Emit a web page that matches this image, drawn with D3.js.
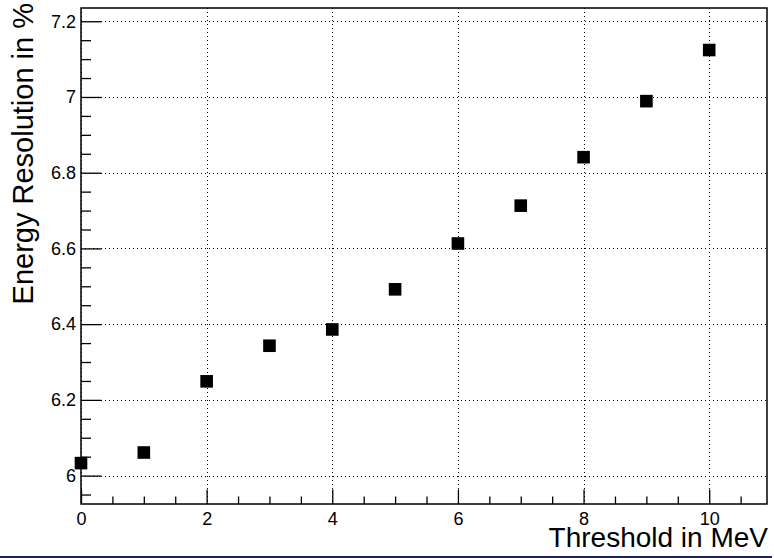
<!DOCTYPE html>
<html>
<head>
<meta charset="utf-8">
<script src="https://cdn.jsdelivr.net/npm/d3@7"></script>
<style>
  html, body { margin: 0; padding: 0; background: #fff; }
  svg { display: block; }
  text { font-family: "Liberation Sans", Arial, Helvetica, sans-serif; fill: #000; }
</style>
</head>
<body>
<svg id="chart" width="774" height="558"></svg>
<script>
// ---- data ----
const thresholds = [0, 1, 2, 3, 4, 5, 6, 7, 8, 9, 10];
const resolution = [6.033, 6.061, 6.249, 6.343, 6.386, 6.492, 6.613, 6.713, 6.841, 6.989, 7.124];
const xMajorTicks = [0, 2, 4, 6, 8, 10];
const yMajorTicks = [6, 6.2, 6.4, 6.6, 6.8, 7, 7.2];
const xTitle = "Threshold in MeV";
const yTitle = "Energy Resolution in %";

// ---- layout ----
const W = 774, H = 558;
const frame = { left: 81, right: 767, top: 8, bottom: 504 };
const svg = d3.select("#chart");

svg.append("rect").attr("width", W).attr("height", H).attr("fill", "#fff");

const x = d3.scaleLinear().domain([0, 10.92]).range([frame.left, frame.right]);
const y = d3.scaleLinear().domain([5.925, 7.235]).range([frame.bottom, frame.top]);

// minor ticks
const xMinor = d3.range(0, 10.92, 0.5).filter(v => !xMajorTicks.includes(v));
const yMinor = d3.range(5.95, 7.235, 0.05).map(v => +v.toFixed(2))
  .filter(v => !yMajorTicks.some(t => Math.abs(t - v) < 1e-6));

// grid
const grid = svg.append("g").attr("stroke", "#000").attr("stroke-width", 1)
  .attr("stroke-dasharray", "1,3").attr("shape-rendering", "crispEdges");
grid.selectAll("line.gx").data(xMajorTicks).join("line")
  .attr("x1", d => Math.round(x(d)) + 0.5).attr("x2", d => Math.round(x(d)) + 0.5)
  .attr("y1", frame.top).attr("y2", frame.bottom);
grid.selectAll("line.gy").data(yMajorTicks).join("line")
  .attr("x1", frame.left).attr("x2", frame.right)
  .attr("y1", d => Math.round(y(d)) + 0.5).attr("y2", d => Math.round(y(d)) + 0.5);

// axes
const xAxis = svg.append("g").attr("transform", `translate(0,${frame.bottom})`)
  .call(d3.axisBottom(x).tickValues(xMajorTicks).tickSizeInner(-14.5).tickSizeOuter(0)
    .tickPadding(8).tickFormat(d3.format("d")));
const xAxisMinor = svg.append("g").attr("transform", `translate(0,${frame.bottom})`)
  .call(d3.axisBottom(x).tickValues(xMinor).tickSizeInner(-7.5).tickSizeOuter(0).tickFormat(""));
const yAxis = svg.append("g").attr("transform", `translate(${frame.left},0)`)
  .call(d3.axisLeft(y).tickValues(yMajorTicks).tickSizeInner(-20.5).tickSizeOuter(0)
    .tickPadding(5).tickFormat(d => d3.format("")(+d.toFixed(1))));
const yAxisMinor = svg.append("g").attr("transform", `translate(${frame.left},0)`)
  .call(d3.axisLeft(y).tickValues(yMinor).tickSizeInner(-10).tickSizeOuter(0).tickFormat(""));

[xAxis, xAxisMinor, yAxis, yAxisMinor].forEach(g => {
  g.select(".domain").remove();
  g.selectAll(".tick line").attr("stroke", "#000").attr("stroke-width", 1.3);
  g.selectAll(".tick text").attr("font-size", 18)
    .attr("font-family", "'Liberation Sans', Arial, Helvetica, sans-serif").attr("fill", "#000");
});

// frame
svg.append("rect")
  .attr("x", frame.left).attr("y", frame.top)
  .attr("width", frame.right - frame.left).attr("height", frame.bottom - frame.top)
  .attr("fill", "none").attr("stroke", "#000").attr("stroke-width", 1.5);

// markers
const ms = 12.6;
svg.append("g").selectAll("rect").data(thresholds).join("rect")
  .attr("x", (d, i) => x(d) - ms / 2)
  .attr("y", (d, i) => y(resolution[i]) - ms / 2)
  .attr("width", ms).attr("height", ms)
  .attr("fill", "#000");

// titles
svg.append("text").attr("x", 768).attr("y", 547).attr("text-anchor", "end")
  .attr("font-size", 28).text(xTitle);
svg.append("text").attr("transform", "translate(33,3) rotate(-90)")
  .attr("text-anchor", "end").attr("font-size", 29).text(yTitle);

// bottom border line
svg.append("rect").attr("x", 0).attr("y", 556).attr("width", 772).attr("height", 2)
  .attr("fill", "#23235c");
</script>
</body>
</html>
